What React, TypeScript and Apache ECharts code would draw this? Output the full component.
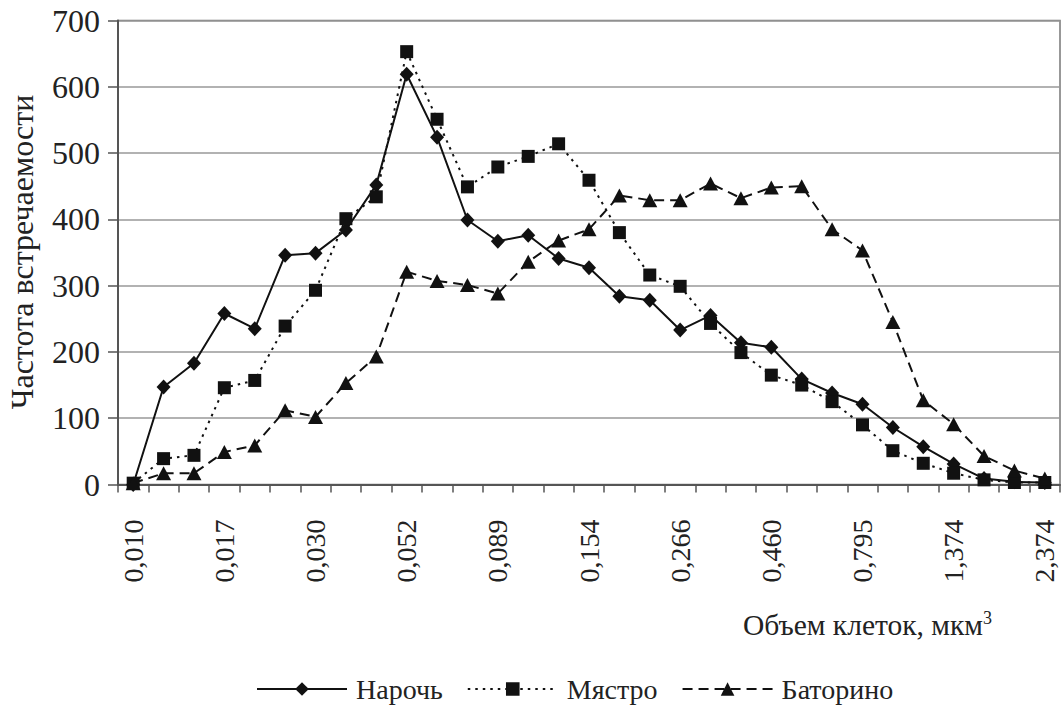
import React, { useEffect, useRef } from "react";
import * as echarts from "echarts";

const categories = [
  "0,010", "0,012", "0,014", "0,017", "0,021", "0,025", "0,030", "0,036",
  "0,043", "0,052", "0,062", "0,074", "0,089", "0,107", "0,128", "0,154",
  "0,185", "0,222", "0,266", "0,319", "0,383", "0,460", "0,552", "0,662",
  "0,795", "0,954", "1,145", "1,374", "1,648", "1,978", "2,374",
];

const naroch = [
  0, 147, 183, 258, 235, 346, 349, 384, 452, 619, 524, 399, 367, 376, 341, 327,
  284, 278, 233, 255, 214, 207, 159, 138, 121, 86, 57, 31, 9, 4, 3,
];
const myastro = [
  2, 39, 44, 146, 157, 239, 293, 401, 434, 653, 551, 449, 479, 495, 514, 459,
  380, 316, 299, 243, 199, 165, 150, 125, 90, 51, 32, 17, 7, 3, 3,
];
const batorino = [
  2, 17, 17, 49, 59, 112, 102, 153, 193, 321, 307, 301, 288, 336, 368, 385,
  436, 429, 429, 454, 432, 448, 450, 385, 353, 245, 127, 91, 43, 21, 9,
];

const seriesNames = ["Нарочь", "Мястро", "Баторино"];
const yAxisTitle = "Частота встречаемости";
const xAxisTitle = "Объем клеток, мкм";

const FONT = "'Liberation Serif', 'Times New Roman', serif";
const INK = "#222";

export default function App() {
  const ref = useRef<HTMLDivElement>(null);

  useEffect(() => {
    if (!ref.current) return;
    const chart = echarts.init(ref.current, null, { renderer: "svg" });
    const option = {
      animation: false,
      backgroundColor: "#fff",
      textStyle: { fontFamily: FONT, color: INK },
      grid: {
        left: 118,
        right: 2,
        top: 20.5,
        bottom: 221.5,
        show: true,
        borderColor: "#777",
        borderWidth: 1.5,
        containLabel: false,
      },
      legend: {
        left: 256,
        top: 675,
        padding: 0,
        itemWidth: 90,
        itemHeight: 17,
        itemGap: 24,
        textStyle: {
          fontFamily: FONT,
          fontSize: 28,
          lineHeight: 28,
          color: INK,
          padding: [0, 0, 0, 4],
        },
        data: seriesNames,
      },
      xAxis: {
        type: "category",
        data: categories,
        boundaryGap: true,
        axisLine: { show: true, lineStyle: { color: "#555", width: 2 } },
        axisTick: { show: true, interval: 0, length: 8, lineStyle: { color: "#555", width: 1.5 } },
        axisLabel: {
          interval: 2,
          rotate: 90,
          margin: 35,
          fontSize: 28,
          fontFamily: FONT,
          color: INK,
        },
        splitLine: { show: false },
      },
      yAxis: {
        type: "value",
        min: 0,
        max: 700,
        interval: 100,
        axisLine: { show: true, lineStyle: { color: "#555", width: 2 } },
        axisTick: { show: true, length: 10, lineStyle: { color: "#555", width: 1.5 } },
        axisLabel: { margin: 18, fontSize: 32, fontFamily: FONT, color: INK },
        splitLine: { show: true, lineStyle: { color: "#999", width: 1.5 } },
      },
      graphic: [
        {
          type: "text",
          x: 22,
          y: 252,
          rotation: Math.PI / 2,
          style: {
            text: yAxisTitle,
            fontFamily: FONT,
            fontSize: 32,
            fill: INK,
            textAlign: "center",
            textVerticalAlign: "middle",
          },
        },
        {
          type: "text",
          x: 992,
          y: 625,
          style: {
            text: "{a|" + xAxisTitle + "}{s|3}",
            fontFamily: FONT,
            fill: INK,
            textAlign: "right",
            textVerticalAlign: "middle",
            rich: {
              a: { fontSize: 29.5, fontFamily: FONT, color: INK },
              s: { fontSize: 18, fontFamily: FONT, color: INK, verticalAlign: "top", padding: [0, 0, 14, 0] },
            },
          },
        },
      ],
      series: [
        {
          name: seriesNames[0],
          type: "line",
          data: naroch,
          symbol: "diamond",
          symbolSize: [14, 15],
          itemStyle: { color: "#111" },
          lineStyle: { color: "#111", width: 2, type: "solid" },
        },
        {
          name: seriesNames[1],
          type: "line",
          data: myastro,
          symbol: "rect",
          symbolSize: 13,
          itemStyle: { color: "#111" },
          lineStyle: { color: "#111", width: 2, type: [2.5, 5] },
        },
        {
          name: seriesNames[2],
          type: "line",
          data: batorino,
          symbol: "triangle",
          symbolSize: [15, 14],
          itemStyle: { color: "#111" },
          lineStyle: { color: "#111", width: 2, type: [10, 6] },
        },
      ],
    };
    chart.setOption(option as any);
    return () => chart.dispose();
  }, []);

  return (
    <div
      ref={ref}
      style={{ position: "fixed", left: 0, top: 0, width: 1062, height: 706, background: "#fff" }}
    />
  );
}
